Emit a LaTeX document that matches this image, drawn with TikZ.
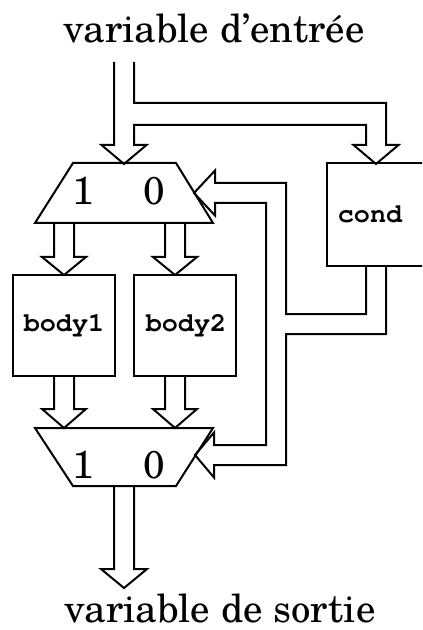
\documentclass[tikz,border=0pt]{standalone}
\usepackage{fontspec}
\newfontfamily\schola{texgyreschola-regular.otf}
\newfontfamily\cursorbold{texgyrecursor-bold.otf}
\begin{document}
\begin{tikzpicture}[x=0.5pt,y=-0.5pt,line width=1pt,line join=miter]
\tikzset{
  lbl/.style={font=\schola\fontsize{19.4}{23}\selectfont,inner sep=0pt,anchor=base},
  code/.style={font=\cursorbold\fontsize{13.4}{16}\selectfont,inner sep=0pt},
  blk/.style={draw,inner sep=0pt,minimum width=51pt,minimum height=50.5pt}
}
\useasboundingbox (0,0) rectangle (422,630);
\clip (0,0) rectangle (422,630);
% texts
\node[lbl] (in) at (214,43) {variable d’entrée};
\node[lbl] (out) at (220,622) {variable de sortie};
% boxes
\node[blk] (b1) at (64,325.5) {};
\node[code] (b1t) at (64,326) {body1};
\node[blk] (b2) at (184.5,325.5) {};
\node[code] (b2t) at (186,326) {body2};
\node[draw,inner sep=0pt,minimum width=51.5pt,minimum height=51.5pt] (c) at (378.5,214.5) {};
\node[code] (ct) at (370,214) {cond};
% muxes
\draw (73,163) -- (176,163) -- (213,223) -- (35,223) -- cycle;
\node[lbl] (m1a) at (83,205) {1};
\node[lbl] (m1b) at (154,205) {0};
\draw (35,428) -- (213,428) -- (176,486) -- (73,486) -- cycle;
\node[lbl] (m2a) at (83,478) {1};
\node[lbl] (m2b) at (154,478) {0};
% input fat arrow
\draw (114,62) -- (114,145) -- (101.5,145) -- (124,164) -- (146.5,145) -- (134,145)
  -- (134,125) -- (366,125) -- (366,145) -- (353.5,145) -- (376,164) -- (398.5,145)
  -- (386,145) -- (386,103) -- (134,103) -- (134,62);
% mux1 -> bodies
\draw (54,223) -- (54,257) -- (42,257) -- (64,275) -- (86,257) -- (74,257) -- (74,223);
\draw (165,223) -- (165,257) -- (153,257) -- (175,275) -- (197,257) -- (185,257) -- (185,223);
% bodies -> mux2
\draw (54,376) -- (54,409) -- (42,409) -- (64,428) -- (86,409) -- (74,409) -- (74,376);
\draw (165,376) -- (165,409) -- (153,409) -- (175,428) -- (197,409) -- (185,409) -- (185,376);
% output
\draw (114,486) -- (114,569) -- (101,569) -- (124,588) -- (147,569) -- (134,569) -- (134,486);
% cond feedback
\draw (366,266) -- (366,314) -- (286,314) -- (286,183) -- (215,183) -- (215,170.5)
  -- (194,193) -- (215,215.5) -- (215,203) -- (266,203) -- (266,445) -- (214,445)
  -- (214,432.5) -- (195,455) -- (214,477.5) -- (214,465) -- (286,465) -- (286,334)
  -- (386,334) -- (386,266);
\end{tikzpicture}
\end{document}
